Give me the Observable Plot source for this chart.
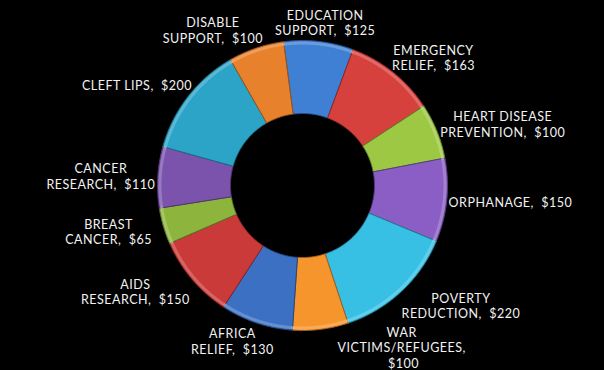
<!DOCTYPE html>
<html><head><meta charset="utf-8">
<script src="https://cdn.jsdelivr.net/npm/d3@7"></script>
<script src="https://cdn.jsdelivr.net/npm/@observablehq/plot@0.6"></script>
<style>html,body{margin:0;padding:0;background:#000;overflow:hidden}</style>
</head><body><div id="chart"></div>
<script>
// ---- data (clockwise from the top) ----
const categories = ["EDUCATION\nSUPPORT", "EMERGENCY\nRELIEF", "HEART DISEASE\nPREVENTION", "ORPHANAGE",
  "POVERTY\nREDUCTION", "WAR\nVICTIMS/REFUGEES", "AFRICA\nRELIEF", "AIDS\nRESEARCH",
  "BREAST\nCANCER", "CANCER\nRESEARCH", "CLEFT LIPS", "DISABLE\nSUPPORT"];
const amounts = [125, 163, 100, 150, 220, 100, 130, 150, 65, 110, 200, 100];
const colors = ["#3f80d4", "#d6403d", "#9cc844", "#8a5ec4", "#38c0e4", "#f7952d",
  "#3b70c2", "#c93a38", "#8db53d", "#7b53ad", "#2ca4c8", "#e8812b"];
const valueSeparators = [" ", " ", " ", " ", " ", "\n", " ", " ", " ", " ", " ", " "];

// ---- layout ----
const W = 604, H = 370, cx = 302, cy = 185, R = 145, r0 = 72;
const startAngle = -7.5 * Math.PI / 180;
const fontSize = 12.5, lineH = 15.6, letterSp = 0.5;
const fontFamily = "Lato, 'Open Sans', sans-serif";

const pie = d3.pie().sort(null).startAngle(startAngle).endAngle(startAngle + 2 * Math.PI);
const arcs = pie(amounts);
const pt = (a, rad) => [cx + rad * Math.sin(a), cy - rad * Math.cos(a)];

const polys = [], rims = [];
arcs.forEach((s, i) => {
  const n = Math.max(4, Math.ceil((s.endAngle - s.startAngle) * 180 / Math.PI * 2));
  const outer = [], inner = [];
  for (let k = 0; k <= n; k++) {
    const a = s.startAngle + (s.endAngle - s.startAngle) * k / n;
    outer.push(pt(a, R));
    inner.push(pt(a, r0));
  }
  const ring = outer.concat(inner.reverse());
  ring.push(ring[0]);
  const edge = d3.color(colors[i]).darker(1.2).formatHex();
  ring.forEach(([x, y]) => polys.push({id: i, x, y, color: colors[i], edge}));
  for (let k = 0; k <= n; k++) {
    const a = s.startAngle + (s.endAngle - s.startAngle) * k / n;
    const [x, y] = pt(a, R - 2.5);
    rims.push({id: i, x, y});
  }
});

// ---- label placement: on an ellipse around the ring, pushed clear of the ring and of each other ----
const ctx = document.createElement("canvas").getContext("2d");
ctx.font = `${fontSize}px ${fontFamily}`;
const measure = (line) => ctx.measureText(line).width + letterSp * line.length;
const hitsRing = (x, y, hw, hh, rad) => {
  const nx = Math.max(x - hw, Math.min(cx, x + hw));
  const ny = Math.max(y - hh, Math.min(cy, y + hh));
  return Math.hypot(nx - cx, ny - cy) < rad;
};
const placed = [];
const hitsLabel = (x, y, hw, hh) => placed.some(b =>
  Math.abs(b.x - x) < b.hw + hw + 12 && Math.abs(b.y - y) < b.hh + hh + 2);
const labels = arcs.map((s, i) => {
  const a = (s.startAngle + s.endAngle) / 2;
  const text = categories[i] + "," + valueSeparators[i] + "\u00a0$" + amounts[i];
  const lines = text.split("\n");
  const hw = d3.max(lines, measure) / 2;
  const hh = (lines.length - 1) * lineH / 2 + fontSize * 0.36;
  let x = cx + 202 * Math.sin(a);
  let y = cy - 164 * Math.cos(a);
  y = Math.min(Math.max(y, hh + 3), H - hh - 3);
  const dir = Math.sin(a) >= 0 ? 1 : -1;
  for (let k = 0; k < 300 && (hitsRing(x, y, hw, hh, R + 1) || hitsLabel(x, y, hw, hh)); k++) x += dir;
  placed.push({x, y, hw, hh});
  return {x, y, text};
});

const chart = Plot.plot({
  width: W, height: H, margin: 0,
  style: {background: "#000"},
  x: {domain: [0, W], range: [0, W], axis: null},
  y: {domain: [0, H], range: [0, H], axis: null},
  marks: [
    Plot.line(polys, {x: "x", y: "y", z: "id", fill: "color", stroke: "edge", strokeWidth: 1, curve: "linear"}),
    Plot.line(rims, {x: "x", y: "y", z: "id", stroke: "#ffffff", strokeOpacity: 0.22, strokeWidth: 3, curve: "linear"}),
    Plot.text(labels, {x: "x", y: "y", text: "text", fill: "#f2f2f2", fontSize: fontSize,
      lineAnchor: "middle", lineHeight: lineH / fontSize, fontFamily: fontFamily})
  ]
});
chart.style.letterSpacing = letterSp + "px";
document.getElementById("chart").appendChild(chart);
</script>
</body></html>
